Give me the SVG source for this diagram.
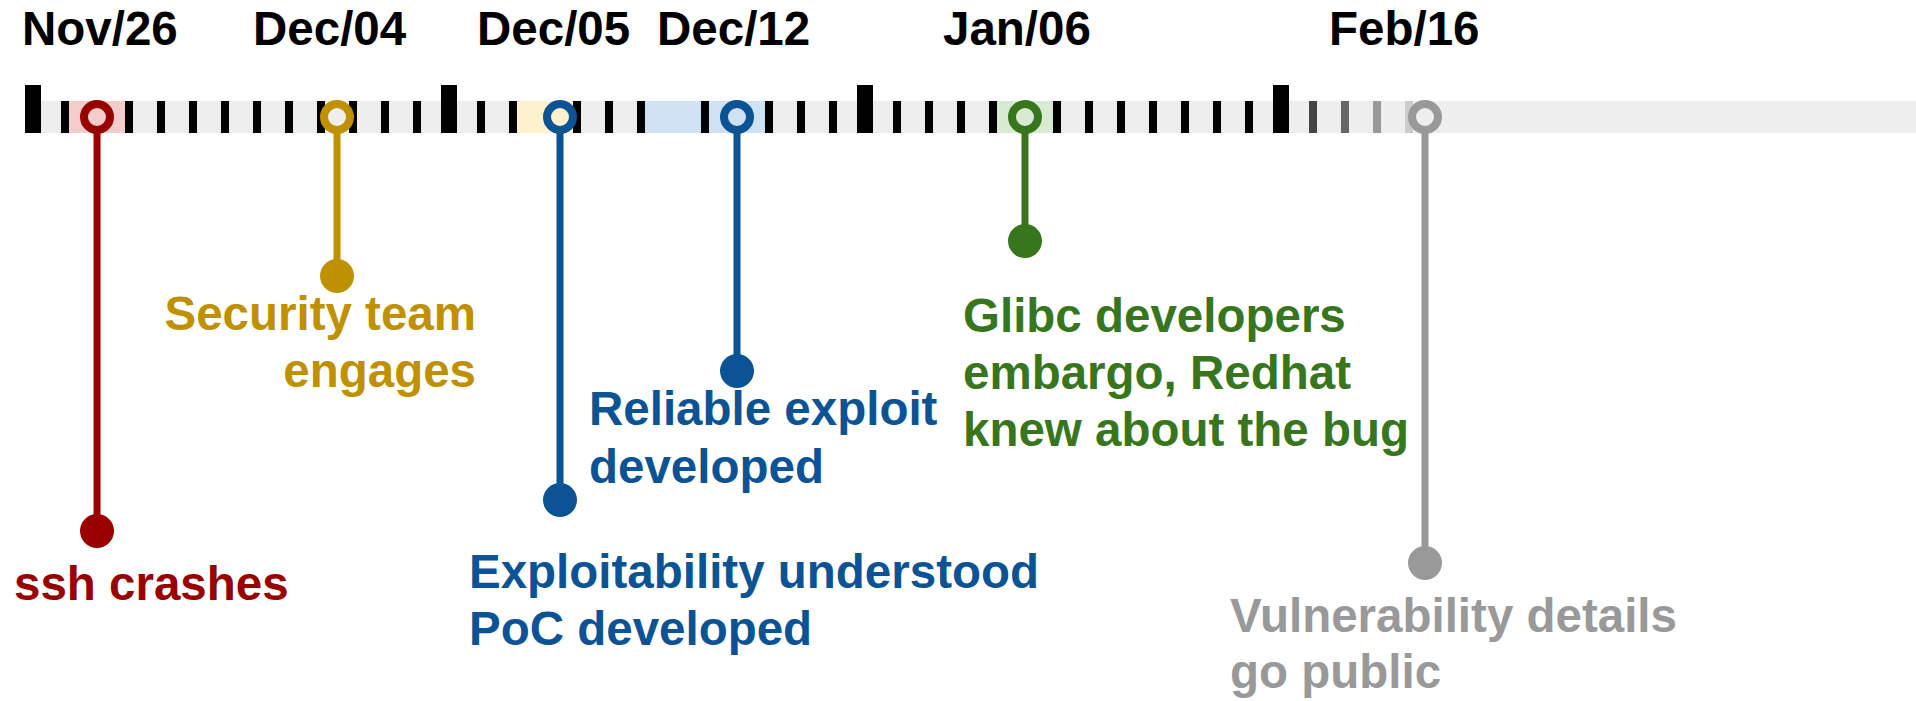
<svg xmlns="http://www.w3.org/2000/svg" width="1916" height="701" viewBox="0 0 1916 701">
  <style>
    text { font-family: "Liberation Sans", Arial, sans-serif; font-weight: bold; font-size: 47.5px; }
    .date { fill: #000000; }
    .tick { fill: #000000; }
    .ring { fill: none; stroke-width: 8; }
    .stem { stroke-width: 7; fill: none; }
    .red { fill: #990000; }
    .gold { fill: #bf9000; }
    .blue { fill: #0b5394; }
    .green { fill: #38761d; }
    .grey { fill: #999999; }
  </style>
  <defs>
    <rect id="t" x="-4" y="101" width="8" height="32"/>
    <rect id="T" x="-8" y="85" width="16" height="48"/>
  </defs>

  <!-- date headings -->
  <g id="dates">
    <text class="date" x="22" y="45">Nov/26</text>
    <text class="date" x="253" y="45">Dec/04</text>
    <text class="date" x="477" y="45">Dec/05</text>
    <text class="date" x="657" y="45">Dec/12</text>
    <text class="date" x="943" y="45">Jan/06</text>
    <text class="date" x="1329" y="45">Feb/16</text>
  </g>

  <!-- timeline bar with day ticks -->
  <g id="timeline">
    <rect x="33" y="101" width="1883" height="32" fill="#eeeeee"/>
    <rect x="69" y="101" width="56" height="32" fill="#f4cccc"/>
    <rect x="517" y="101" width="56" height="32" fill="#fff2cc"/>
    <rect x="645" y="101" width="56" height="32" fill="#cfe2f3"/>
    <rect x="709" y="101" width="56" height="32" fill="#cfe2f3"/>
    <rect x="997" y="101" width="56" height="32" fill="#d9ead3"/>
    <g class="tick">
      <use href="#T" x="33"/>
      <use href="#T" x="449"/>
      <use href="#T" x="865"/>
      <use href="#T" x="1281"/>
      <use href="#t" x="65"/>
      <use href="#t" x="129"/>
      <use href="#t" x="161"/>
      <use href="#t" x="193"/>
      <use href="#t" x="225"/>
      <use href="#t" x="257"/>
      <use href="#t" x="289"/>
      <use href="#t" x="321"/>
      <use href="#t" x="353"/>
      <use href="#t" x="385"/>
      <use href="#t" x="417"/>
      <use href="#t" x="481"/>
      <use href="#t" x="513"/>
      <use href="#t" x="577"/>
      <use href="#t" x="609"/>
      <use href="#t" x="641"/>
      <use href="#t" x="705"/>
      <use href="#t" x="769"/>
      <use href="#t" x="801"/>
      <use href="#t" x="833"/>
      <use href="#t" x="897"/>
      <use href="#t" x="929"/>
      <use href="#t" x="961"/>
      <use href="#t" x="993"/>
      <use href="#t" x="1057"/>
      <use href="#t" x="1089"/>
      <use href="#t" x="1121"/>
      <use href="#t" x="1153"/>
      <use href="#t" x="1185"/>
      <use href="#t" x="1217"/>
      <use href="#t" x="1249"/>
    </g>
    <use href="#t" x="1313" fill="#444444"/>
    <use href="#t" x="1345" fill="#666666"/>
    <use href="#t" x="1377" fill="#999999"/>
    <use href="#t" x="1409" fill="#cccccc"/>
  </g>

  <!-- stems from the timeline down to each event -->
  <g id="connectors">
    <line class="stem" x1="97" y1="130" x2="97" y2="531" stroke="#990000"/>
    <line class="stem" x1="337" y1="130" x2="337" y2="276" stroke="#bf9000"/>
    <line class="stem" x1="560" y1="130" x2="560" y2="500" stroke="#0b5394"/>
    <line class="stem" x1="737" y1="130" x2="737" y2="371" stroke="#0b5394"/>
    <line class="stem" x1="1025" y1="130" x2="1025" y2="241" stroke="#38761d"/>
    <line class="stem" x1="1425" y1="130" x2="1425" y2="563" stroke="#999999"/>
  </g>

  <g id="ev-ssh-crashes">
    <circle class="ring" cx="97" cy="117" r="13" stroke="#990000"/>
    <circle cx="97" cy="531" r="17" class="red"/>
    <text class="red" x="14" y="600">ssh crashes</text>
  </g>

  <g id="ev-security-team">
    <circle class="ring" cx="337" cy="117" r="13" stroke="#bf9000"/>
    <circle cx="337" cy="276" r="17" class="gold"/>
    <text class="gold" text-anchor="end" x="476" y="330">Security team</text>
    <text class="gold" text-anchor="end" x="476" y="387">engages</text>
  </g>

  <g id="ev-exploitability">
    <circle class="ring" cx="560" cy="117" r="13" stroke="#0b5394"/>
    <circle cx="560" cy="500" r="17" class="blue"/>
    <text class="blue" x="469" y="588">Exploitability understood</text>
    <text class="blue" x="469" y="645">PoC developed</text>
  </g>

  <g id="ev-reliable-exploit">
    <circle class="ring" cx="737" cy="117" r="13" stroke="#0b5394"/>
    <circle cx="737" cy="371" r="17" class="blue"/>
    <text class="blue" x="589" y="425">Reliable exploit</text>
    <text class="blue" x="589" y="483">developed</text>
  </g>

  <g id="ev-glibc-embargo">
    <circle class="ring" cx="1025" cy="117" r="13" stroke="#38761d"/>
    <circle cx="1025" cy="241" r="17" class="green"/>
    <text class="green" x="963" y="332">Glibc developers</text>
    <text class="green" x="963" y="389">embargo, Redhat</text>
    <text class="green" x="963" y="446">knew about the bug</text>
  </g>

  <g id="ev-public">
    <circle class="ring" cx="1425" cy="117" r="13" stroke="#999999"/>
    <circle cx="1425" cy="563" r="17" class="grey"/>
    <text class="grey" x="1230" y="632">Vulnerability details</text>
    <text class="grey" x="1230" y="688">go public</text>
  </g>
</svg>
